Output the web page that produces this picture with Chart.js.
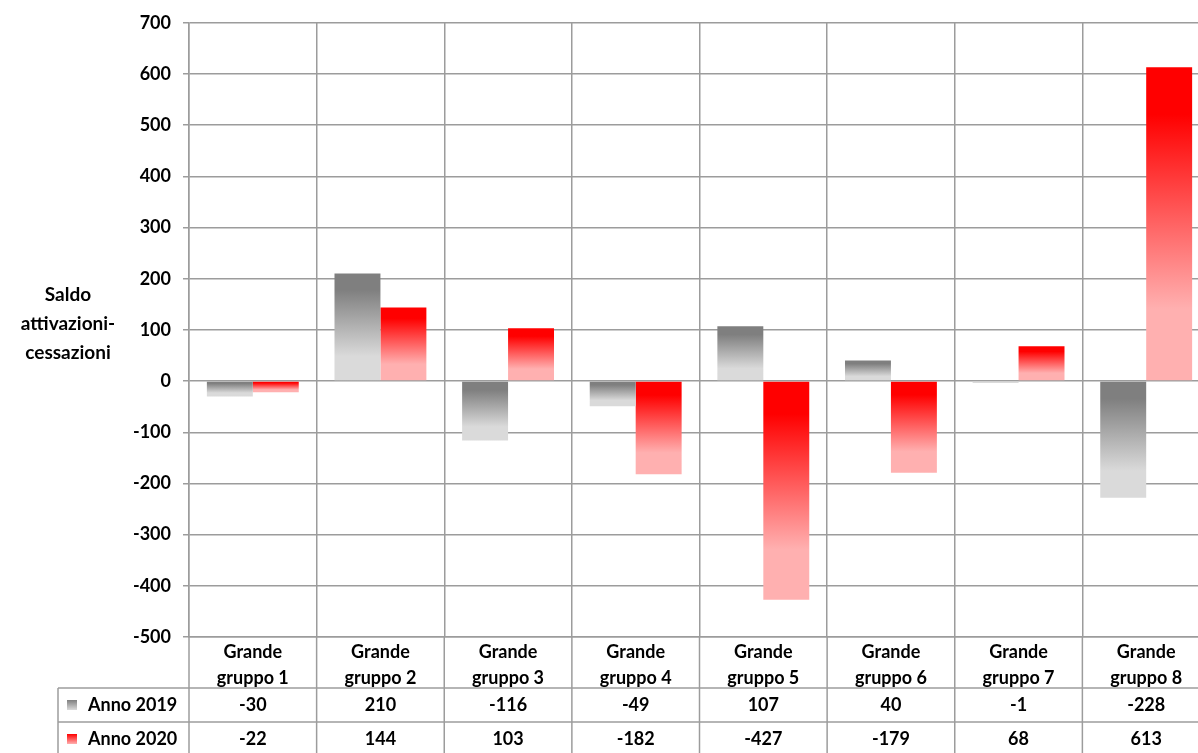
<!DOCTYPE html>
<html>
<head>
<meta charset="utf-8">
<script src="https://cdn.jsdelivr.net/npm/chart.js@4/dist/chart.umd.min.js"></script>
<style>
  html, body { margin: 0; padding: 0; background: #fff; overflow: hidden; }
  #wrap { width: 1210px; height: 753px; }
</style>
</head>
<body>
<div id="wrap"><canvas id="chart" width="1210" height="753"></canvas></div>
<script>
const categories = [
  ["Grande", "gruppo 1"], ["Grande", "gruppo 2"], ["Grande", "gruppo 3"], ["Grande", "gruppo 4"],
  ["Grande", "gruppo 5"], ["Grande", "gruppo 6"], ["Grande", "gruppo 7"], ["Grande", "gruppo 8"]
];
const seriesNames = ["Anno 2019", "Anno 2020"];
const anno2019 = [-30, 210, -116, -49, 107, 40, -1, -228];
const anno2020 = [-22, 144, 103, -182, -427, -179, 68, 613];
const yTitle = ["Saldo", "attivazioni-", "cessazioni"];

const FONT = "Lato, 'Liberation Sans', sans-serif";
const GRID = "#9c9c9c";
const gray = ["#7f7f7f", "#dadada"];
const red = ["#ff0000", "#ffb0b0"];

function barGradient(context, colors) {
  const chart = context.chart;
  if (!chart.chartArea || !context.parsed) return colors[0];
  const y = chart.scales.y;
  const a = y.getPixelForValue(context.parsed.y);
  const b = y.getPixelForValue(0);
  const top = Math.min(a, b), bot = Math.max(a, b);
  if (bot - top < 3) return colors[1];
  const g = chart.ctx.createLinearGradient(0, top, 0, bot);
  g.addColorStop(0, colors[0]);
  g.addColorStop(0.15, colors[0]);
  g.addColorStop(0.77, colors[1]);
  g.addColorStop(1, colors[1]);
  return g;
}

const tablePlugin = {
  id: 'dataTable',
  afterDraw(chart) {
    const c = chart.ctx;
    const area = chart.chartArea;
    const x = chart.scales.x;
    const tableTop = 688, rowH = 34, tableLeft = 58;
    const H = chart.height;
    c.save();
    c.strokeStyle = GRID;
    c.lineWidth = 1.5;
    // vertical lines through label area and table
    const n = categories.length;
    const half = (x.getPixelForValue(1) - x.getPixelForValue(0)) / 2;
    for (let i = 0; i <= n; i++) {
      const px = x.getPixelForValue(0) - half + i * half * 2;
      c.beginPath(); c.moveTo(px, area.bottom); c.lineTo(px, H); c.stroke();
    }
    // table horizontal lines
    for (let r = 0; r < 2; r++) {
      const py = tableTop + r * rowH;
      c.beginPath(); c.moveTo(tableLeft, py); c.lineTo(chart.width, py); c.stroke();
    }
    c.beginPath(); c.moveTo(tableLeft, tableTop); c.lineTo(tableLeft, H); c.stroke();

    // rows
    const rows = [anno2019, anno2020];
    const cols = [gray, red];
    c.font = "bold 18px " + FONT;
    c.fillStyle = "#000";
    c.textBaseline = "middle";
    rows.forEach((vals, r) => {
      const cy = tableTop + r * rowH + rowH / 2;
      const g = c.createLinearGradient(0, cy - 5, 0, cy + 5);
      g.addColorStop(0, cols[r][0]);
      g.addColorStop(1, cols[r][1]);
      c.fillStyle = g;
      c.fillRect(67, cy - 5, 10, 10);
      c.fillStyle = "#000";
      c.textAlign = "left";
      c.fillText(seriesNames[r], 88, cy);
      c.textAlign = "center";
      vals.forEach((v, i) => c.fillText(String(v), x.getPixelForValue(i), cy));
    });

    // y axis title
    c.font = "bold 19px " + FONT;
    c.fillStyle = "#000";
    c.textAlign = "center";
    c.textBaseline = "middle";
    yTitle.forEach((t, i) => c.fillText(t, 68, 295 + i * 29));
    c.restore();
  }
};

new Chart(document.getElementById('chart').getContext('2d'), {
  type: 'bar',
  data: {
    labels: categories,
    datasets: [
      { label: seriesNames[0], data: anno2019, backgroundColor: ctx => barGradient(ctx, gray) },
      { label: seriesNames[1], data: anno2020, backgroundColor: ctx => barGradient(ctx, red) }
    ]
  },
  options: {
    responsive: false,
    animation: false,
    layout: { padding: { top: 22, bottom: 65, left: 0, right: 0 } },
    datasets: { bar: { categoryPercentage: 0.72, barPercentage: 1.0, borderWidth: 0, minBarLength: 2 } },
    plugins: { legend: { display: false }, tooltip: { enabled: false }, title: { display: false } },
    scales: {
      x: {
        grid: { offset: true, color: GRID, lineWidth: 1.5, drawTicks: false },
        border: { color: GRID, width: 1.5 },
        ticks: { color: "#000", font: { family: FONT, size: 18, weight: 'bold', lineHeight: 1.45 }, padding: 2, maxRotation: 0, autoSkip: false },
        afterFit(scale) { scale.height = 51; }
      },
      y: {
        min: -500, max: 700,
        grid: { color: GRID, lineWidth: 1.5, tickLength: 6 },
        border: { color: GRID, width: 1.5 },
        ticks: { stepSize: 100, color: "#000", font: { family: FONT, size: 18, weight: 'bold' }, padding: 12 },
        afterFit(scale) { scale.width = 189; }
      }
    }
  },
  plugins: [tablePlugin]
});
</script>
</body>
</html>
